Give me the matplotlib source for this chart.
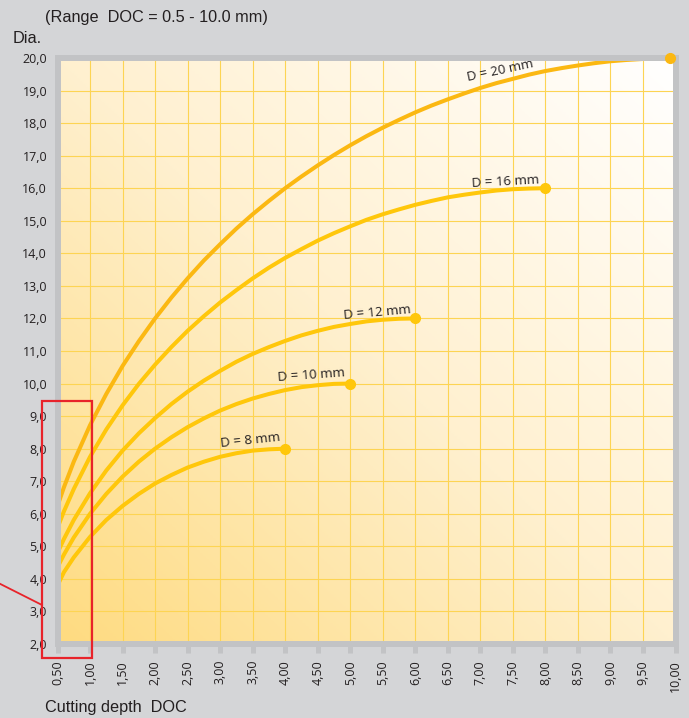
import numpy as np
import matplotlib.pyplot as plt
from matplotlib.colors import LinearSegmentedColormap
from matplotlib.patches import Rectangle

# effective diameter vs. cutting depth
doc_8 = [0.5, 0.6, 0.75, 1.0, 1.25, 1.5, 1.75, 2.0, 2.25, 2.5, 2.75, 3.0, 3.25, 3.5,
         3.75, 4.0]
dia_8 = [3.80, 4.21, 4.66, 5.29, 5.81, 6.24, 6.61, 6.93, 7.19, 7.42, 7.60, 7.75, 7.86,
         7.94, 7.98, 8.0]

doc_10 = [0.5, 0.6, 0.75, 1.0, 1.25, 1.5, 1.75, 2.0, 2.25, 2.5, 2.75, 3.0, 3.25, 3.5,
          3.75, 4.0, 4.25, 4.5, 4.75, 5.0]
dia_10 = [4.36, 4.75, 5.27, 6.00, 6.61, 7.14, 7.60, 8.00, 8.35, 8.66, 8.93, 9.17, 9.37,
          9.54, 9.68, 9.80, 9.89, 9.95, 9.99, 10.0]

doc_12 = [0.5, 0.6, 0.75, 1.0, 1.25, 1.5, 1.75, 2.0, 2.25, 2.5, 2.75, 3.0, 3.25, 3.5,
          3.75, 4.0, 4.25, 4.5, 4.75, 5.0, 5.25, 5.5, 5.75, 6.0]
dia_12 = [4.80, 5.23, 5.81, 6.63, 7.33, 7.94, 8.47, 8.94, 9.37, 9.75, 10.09, 10.39,
          10.67, 10.91, 11.12, 11.31, 11.48, 11.62, 11.74, 11.83, 11.91, 11.96, 11.99, 12.0]

doc_16 = [0.5, 0.6, 0.75, 1.0, 1.25, 1.5, 1.75, 2.0, 2.25, 2.5, 2.75, 3.0, 3.25, 3.5,
          3.75, 4.0, 4.25, 4.5, 4.75, 5.0, 5.25, 5.5, 5.75, 6.0, 6.25, 6.5, 6.75, 7.0,
          7.25, 7.5, 7.75, 8.0]
dia_16 = [5.57, 6.08, 6.76, 7.75, 8.59, 9.33, 9.99, 10.58, 11.12, 11.62, 12.07, 12.49,
          12.87, 13.23, 13.56, 13.86, 14.13, 14.39, 14.62, 14.83, 15.03, 15.20, 15.35,
          15.49, 15.61, 15.72, 15.80, 15.87, 15.93, 15.97, 15.99, 16.0]

doc_20 = [0.5, 0.6, 0.75, 1.0, 1.25, 1.5, 1.75, 2.0, 2.25, 2.5, 2.75, 3.0, 3.25, 3.5,
          3.75, 4.0, 4.25, 4.5, 4.75, 5.0, 5.25, 5.5, 5.75, 6.0, 6.25, 6.5, 6.75, 7.0,
          7.25, 7.5, 7.75, 8.0, 8.25, 8.5, 8.75, 9.0, 9.25, 9.5, 9.92]
dia_20 = [6.24, 6.82, 7.60, 8.72, 9.68, 10.54, 11.30, 12.00, 12.64, 13.23, 13.78, 14.28,
          14.76, 15.20, 15.61, 16.00, 16.36, 16.70, 17.02, 17.32, 17.60, 17.86, 18.10,
          18.33, 18.54, 18.73, 18.91, 19.08, 19.23, 19.36, 19.49, 19.60, 19.69, 19.77,
          19.84, 19.90, 19.94, 19.97, 20.0]

labels = ["D = 8 mm", "D = 10 mm", "D = 12 mm", "D = 16 mm", "D = 20 mm"]
label_x = [3.47, 4.41, 5.41, 7.38, 7.30]
label_y = [8.24, 10.26, 12.17, 16.19, 19.60]
label_rot = [6, 4, 5, 3, 12]

x_ticks = np.arange(0.5, 10.01, 0.5)
y_ticks = np.arange(2, 21, 1)

grey_bg = '#d4d5d7'
frame = '#c2c3c5'
gold = '#ffc70b'
gold_dark = '#fbb812'

fig = plt.figure(figsize=(6.89, 7.18), dpi=100, facecolor=grey_bg)
ax = fig.add_axes([57.5 / 689, 74 / 718, 618 / 689, 586 / 718])
ax.set_xlim(0.5, 10)
ax.set_ylim(2, 20)

# diagonal yellow -> white background
cmap = LinearSegmentedColormap.from_list('bg', ['#fedb80', '#fff0cf', '#ffffff'])
gx, gy = np.meshgrid(np.linspace(0, 1, 200), np.linspace(0, 1, 200))
ax.imshow((gx + gy) / 2, extent=[0.5, 10, 2, 20], origin='lower', aspect='auto',
          cmap=cmap, zorder=0)

ax.set_xticks(x_ticks)
ax.set_yticks(y_ticks)
ax.set_xticklabels([f"{v:.2f}".replace('.', ',') for v in x_ticks], rotation=90,
                   family='Open Sans', fontsize=9, color='#231f20')
ax.set_yticklabels([f"{v:.1f}".replace('.', ',') for v in y_ticks],
                   family='Open Sans', fontsize=9, color='#231f20')
ax.grid(color='#fdd453', lw=0.8, zorder=1)
ax.set_axisbelow(True)
ax.tick_params(axis='x', length=6.5, width=3.6, color=frame, pad=5)
ax.tick_params(axis='y', length=0, pad=7.5)
for s in ax.spines.values():
    s.set_color(frame)
    s.set_linewidth(4.3)
    s.set_capstyle('projecting')
    s.set_zorder(5)

curves = [(doc_8, dia_8, gold), (doc_10, dia_10, gold), (doc_12, dia_12, gold),
          (doc_16, dia_16, gold), (doc_20, dia_20, gold_dark)]
for (d, v, c), lab, lx, ly, r in zip(curves, labels, label_x, label_y, label_rot):
    ax.plot(d, v, color=c, lw=2.9, zorder=3)
    ax.plot(d[-1], v[-1], 'o', ms=7, color=c, zorder=6, clip_on=False)
    ax.text(lx, ly, lab, rotation=r, ha='center', va='center', fontsize=9.5,
            family='Open Sans', color='#231f20', zorder=4)

# red highlight of the shallow-depth range
ax.add_patch(Rectangle((0.26, 1.57), 0.77, 7.9, fill=False, ec='#e8232a', lw=1.6,
                       clip_on=False, zorder=10))
ax.plot([-0.385, 0.26], [3.85, 3.2], color='#e8232a', lw=1.3, clip_on=False, zorder=10)

fig.text(45 / 689, 1 - 22 / 718, "(Range  DOC = 0.5 - 10.0 mm)", fontsize=11.7,
         family='Liberation Sans', color='#231f20', va='baseline')
fig.text(13 / 689, 1 - 43 / 718, "Dia.", fontsize=11.7,
         family='Liberation Sans', color='#231f20', va='baseline')
fig.text(45 / 689, 1 - 712 / 718, "Cutting depth  DOC", fontsize=11.7,
         family='Liberation Sans', color='#231f20', va='baseline')

fig.savefig('out.png', dpi=100, facecolor=grey_bg)
